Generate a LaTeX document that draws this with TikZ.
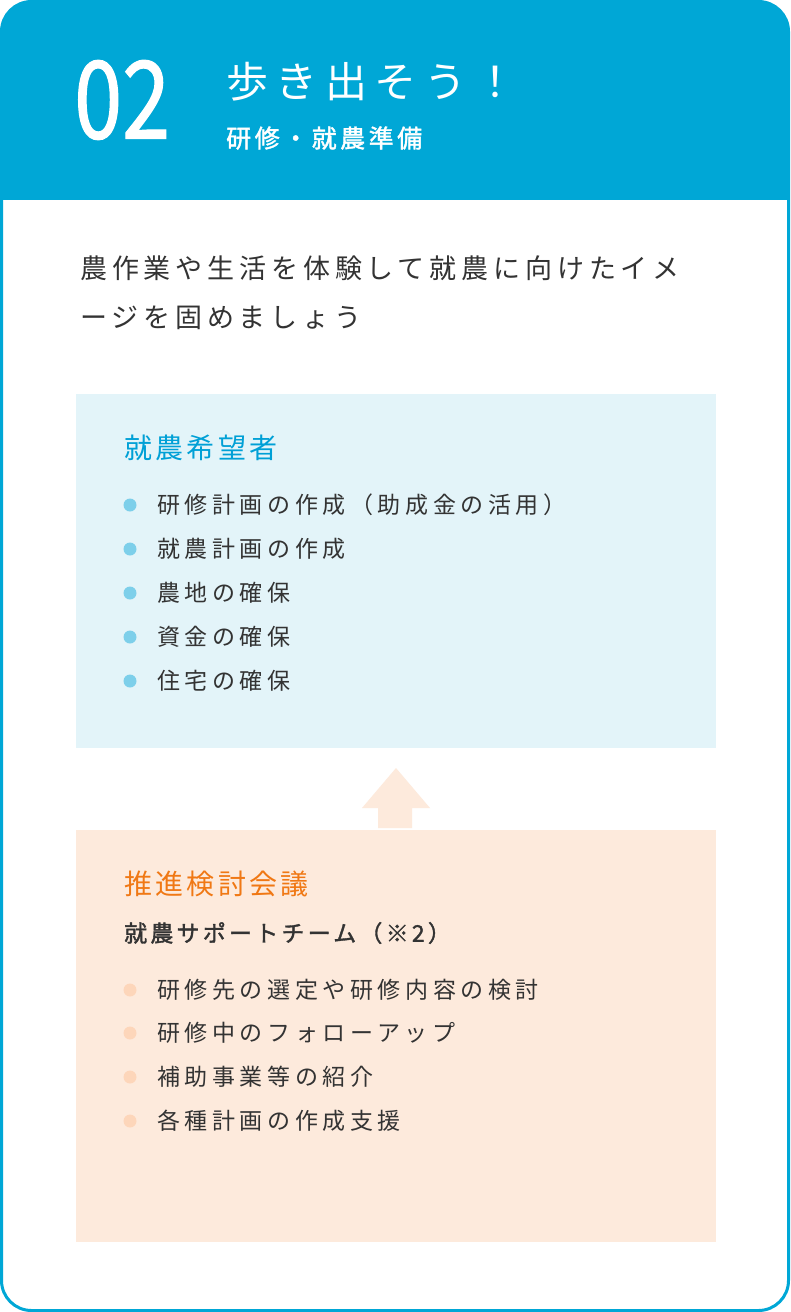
\documentclass[tikz,border=0pt]{standalone}
\usepackage{fontspec}
\setmainfont{Noto Sans CJK JP}[LetterSpace=20]
\newfontfamily\numfont[FakeStretch=0.8,FakeBold=1]{Noto Sans CJK JP}
\newfontfamily\bodyjp[LetterSpace=18]{Noto Sans CJK JP}
\newfontfamily\titlejp[LetterSpace=12]{Noto Sans CJK JP}
\newfontfamily\headjp[LetterSpace=18]{Noto Sans CJK JP}
\newfontfamily\boldjp[FakeBold=1.5,LetterSpace=14]{Noto Sans CJK JP}
\definecolor{hblue}{HTML}{00A7D6}
\definecolor{tblue}{HTML}{00A0D6}
\definecolor{dotblue}{HTML}{7DCFEA}
\definecolor{lblue}{HTML}{E3F4F9}
\definecolor{lorange}{HTML}{FDEADC}
\definecolor{dotor}{HTML}{FDD6BA}
\definecolor{torange}{HTML}{F07814}
\definecolor{txt}{HTML}{333333}
\tikzset{x=1pt,y=-1pt,
 item/.style={anchor=west,text=txt,font=\fontsize{23}{23}\selectfont,inner sep=0},
 btitle/.style={anchor=west,font=\titlejp\fontsize{28}{28}\selectfont,inner sep=0}}
\begin{document}
\begin{tikzpicture}
\useasboundingbox (0,0) rectangle (790,1312);
\begin{scope}
\clip[rounded corners=30] (1.5,1.5) rectangle (788.5,1310.5);
\fill[white] (0,0) rectangle (790,1312);
\fill[hblue] (0,0) rectangle (790,200);
\end{scope}
\draw[hblue,line width=3,rounded corners=30] (1.5,1.5) rectangle (788.5,1310.5);
\node[anchor=west,text=white,inner sep=0,font=\numfont\fontsize{108}{108}\selectfont] (num) at (74,100) {02};
\node[anchor=west,text=white,inner sep=0,font=\headjp\fontsize{42}{42}\selectfont] (ttl) at (226,82) {歩き出そう！};
\node[anchor=west,text=white,inner sep=0,font=\boldjp\fontsize{25}{25}\selectfont] (sub) at (226,138) {研修・就農準備};
\node[item,font=\bodyjp\fontsize{27}{27}\selectfont] (l1) at (80,268) {農作業や生活を体験して就農に向けたイメ};
\node[item,font=\bodyjp\fontsize{27}{27}\selectfont] (l2) at (80,318) {ージを固めましょう};
\fill[lblue] (76,394) rectangle (716,748);
\node[btitle,text=tblue] (bt) at (124,448) {就農希望者};
\foreach \y/\t [count=\i] in {505/研修計画の作成（助成金の活用）,549/就農計画の作成,593/農地の確保,637/資金の確保,681/住宅の確保}{
 \fill[dotblue] (130,\y) circle (6.5);
 \node[item] (a\i) at (157,\y) {\t};}
\fill[lorange] (378,828) -- (378,808) -- (362,808) -- (396,768) -- (430,808) -- (412,808) -- (412,828) -- cycle;
\fill[lorange] (76,830) rectangle (716,1242);
\node[btitle,text=torange] (ot) at (124,884) {推進検討会議};
\node[item,font=\boldjp\fontsize{23}{23}\selectfont] (os) at (124,933) {就農サポートチーム（※2）};
\foreach \y/\t [count=\i] in {990/研修先の選定や研修内容の検討,1033/研修中のフォローアップ,1077/補助事業等の紹介,1121/各種計画の作成支援}{
 \fill[dotor] (130,\y) circle (6.5);
 \node[item] (b\i) at (157,\y) {\t};}
\end{tikzpicture}
\end{document}
